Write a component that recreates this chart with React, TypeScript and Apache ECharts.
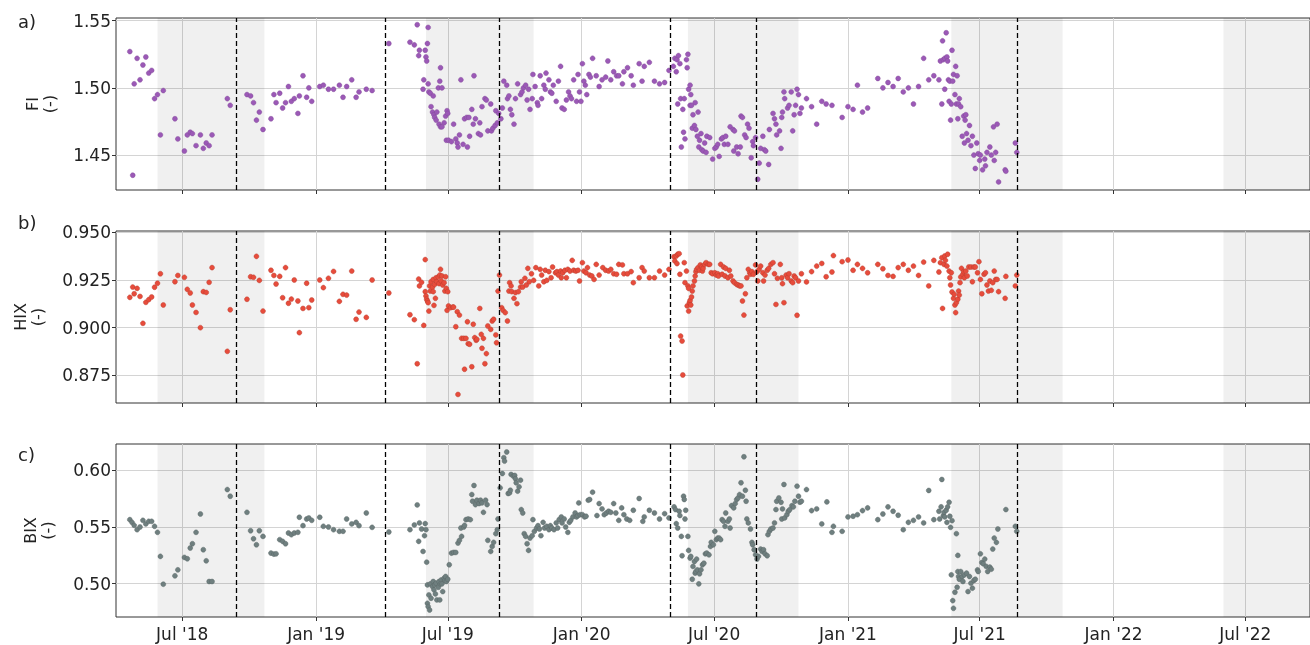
import React, { useEffect, useRef } from "react";
import * as echarts from "echarts";

// ---------- axis / annotation data ----------
const xMin = "2018-04-01";
const xMax = "2022-09-28";
const tickDates = ["2018-07-01", "2019-01-01", "2019-07-01", "2020-01-01", "2020-07-01", "2021-01-01", "2021-07-01", "2022-01-01", "2022-07-01"];
const tickLabels = ["Jul '18", "Jan '19", "Jul '19", "Jan '20", "Jul '20", "Jan '21", "Jul '21", "Jan '22", "Jul '22"];
const summerBands: [string, string][] = [
  ["2018-05-28", "2018-10-22"],
  ["2019-06-01", "2019-10-27"],
  ["2020-05-26", "2020-10-25"],
  ["2021-05-23", "2021-10-23"],
  ["2022-06-01", "2022-09-28"],
];
const breakDates = ["2018-09-13", "2019-04-06", "2019-09-10", "2020-05-02", "2020-08-28", "2021-08-22"];
const fiTicks = [1.45, 1.5, 1.55];
const hixTicks = [0.875, 0.9, 0.925, 0.95];
const bixTicks = [0.5, 0.55, 0.6];
const panelLabels = ["a)", "b)", "c)"];
const axisNames = ["FI\n(-)", "HIX\n(-)", "BIX\n(-)"];

// ---------- FI ----------
const fiData: [string, number][] = [
  ["2018-04-20", 1.527], ["2018-04-24", 1.435], ["2018-04-26", 1.503], ["2018-04-30", 1.522], ["2018-05-04", 1.506],
  ["2018-05-08", 1.517], ["2018-05-12", 1.523], ["2018-05-16", 1.511], ["2018-05-20", 1.513], ["2018-05-24", 1.492],
  ["2018-05-28", 1.495], ["2018-06-01", 1.465], ["2018-06-05", 1.498], ["2018-06-21", 1.477], ["2018-06-25", 1.462],
  ["2018-07-04", 1.453], ["2018-07-08", 1.465], ["2018-07-12", 1.467], ["2018-07-15", 1.466], ["2018-07-20", 1.457],
  ["2018-07-26", 1.465], ["2018-07-30", 1.455], ["2018-08-03", 1.459], ["2018-08-07", 1.457], ["2018-08-11", 1.465],
  ["2018-09-01", 1.492], ["2018-09-05", 1.487], ["2018-09-28", 1.495], ["2018-10-03", 1.494], ["2018-10-07", 1.489],
  ["2018-10-11", 1.476], ["2018-10-15", 1.482], ["2018-10-20", 1.469], ["2018-10-31", 1.477], ["2018-11-04", 1.495],
  ["2018-11-07", 1.489], ["2018-11-12", 1.496], ["2018-11-16", 1.485], ["2018-11-20", 1.489], ["2018-11-24", 1.501],
  ["2018-11-28", 1.490], ["2018-12-02", 1.492], ["2018-12-07", 1.481], ["2018-12-09", 1.494], ["2018-12-14", 1.509],
  ["2018-12-19", 1.493], ["2018-12-22", 1.500], ["2018-12-26", 1.490], ["2019-01-06", 1.501], ["2019-01-11", 1.502],
  ["2019-01-18", 1.499], ["2019-01-25", 1.499], ["2019-02-02", 1.502], ["2019-02-07", 1.493], ["2019-02-12", 1.501],
  ["2019-02-19", 1.506], ["2019-02-25", 1.493], ["2019-03-01", 1.497], ["2019-03-11", 1.499], ["2019-03-19", 1.498],
  ["2019-04-11", 1.533], ["2019-05-10", 1.534], ["2019-05-16", 1.532], ["2019-05-20", 1.547], ["2019-05-22", 1.524],
  ["2019-05-23", 1.528], ["2019-05-28", 1.499], ["2019-05-29", 1.506], ["2019-05-31", 1.528], ["2019-06-01", 1.523],
  ["2019-06-02", 1.520], ["2019-06-03", 1.533], ["2019-06-04", 1.545], ["2019-06-04", 1.503], ["2019-06-05", 1.497],
  ["2019-06-07", 1.496], ["2019-06-08", 1.486], ["2019-06-10", 1.482], ["2019-06-11", 1.494], ["2019-06-12", 1.480],
  ["2019-06-13", 1.478], ["2019-06-15", 1.476], ["2019-06-16", 1.482], ["2019-06-18", 1.500], ["2019-06-19", 1.473],
  ["2019-06-20", 1.505], ["2019-06-21", 1.471], ["2019-06-21", 1.515], ["2019-06-23", 1.500], ["2019-06-23", 1.471],
  ["2019-06-26", 1.474], ["2019-06-28", 1.479], ["2019-06-29", 1.461], ["2019-06-30", 1.483], ["2019-07-01", 1.481],
  ["2019-07-02", 1.461], ["2019-07-06", 1.460], ["2019-07-09", 1.473], ["2019-07-12", 1.462], ["2019-07-14", 1.459],
  ["2019-07-15", 1.456], ["2019-07-17", 1.465], ["2019-07-19", 1.506], ["2019-07-22", 1.458], ["2019-07-24", 1.477],
  ["2019-07-27", 1.478], ["2019-07-28", 1.456], ["2019-07-30", 1.478], ["2019-07-31", 1.464], ["2019-08-03", 1.484],
  ["2019-08-05", 1.473], ["2019-08-06", 1.509], ["2019-08-08", 1.477], ["2019-08-12", 1.466], ["2019-08-14", 1.474],
  ["2019-08-15", 1.465], ["2019-08-17", 1.486], ["2019-08-21", 1.492], ["2019-08-23", 1.491], ["2019-08-25", 1.468],
  ["2019-08-29", 1.488], ["2019-08-30", 1.468], ["2019-09-01", 1.470], ["2019-09-04", 1.472], ["2019-09-05", 1.483],
  ["2019-09-07", 1.474], ["2019-09-09", 1.481], ["2019-09-12", 1.477], ["2019-09-14", 1.485], ["2019-09-16", 1.505],
  ["2019-09-20", 1.502], ["2019-09-21", 1.492], ["2019-09-23", 1.494], ["2019-09-25", 1.484], ["2019-09-27", 1.480],
  ["2019-09-30", 1.473], ["2019-10-02", 1.492], ["2019-10-05", 1.503], ["2019-10-09", 1.495], ["2019-10-11", 1.497],
  ["2019-10-13", 1.500], ["2019-10-16", 1.502], ["2019-10-18", 1.491], ["2019-10-20", 1.499], ["2019-10-22", 1.484],
  ["2019-10-25", 1.492], ["2019-10-26", 1.510], ["2019-10-29", 1.501], ["2019-11-01", 1.489], ["2019-11-02", 1.487],
  ["2019-11-05", 1.509], ["2019-11-07", 1.492], ["2019-11-10", 1.502], ["2019-11-12", 1.499], ["2019-11-13", 1.511],
  ["2019-11-17", 1.506], ["2019-11-19", 1.497], ["2019-11-21", 1.496], ["2019-11-23", 1.502], ["2019-11-27", 1.490],
  ["2019-11-30", 1.505], ["2019-12-03", 1.516], ["2019-12-05", 1.485], ["2019-12-08", 1.484], ["2019-12-11", 1.491],
  ["2019-12-14", 1.497], ["2019-12-16", 1.494], ["2019-12-18", 1.492], ["2019-12-21", 1.506], ["2019-12-25", 1.490],
  ["2019-12-27", 1.510], ["2019-12-29", 1.497], ["2019-12-31", 1.490], ["2020-01-02", 1.518], ["2020-01-04", 1.505],
  ["2020-01-06", 1.502], ["2020-01-08", 1.495], ["2020-01-11", 1.510], ["2020-01-13", 1.508], ["2020-01-16", 1.522],
  ["2020-01-21", 1.509], ["2020-01-25", 1.501], ["2020-01-29", 1.506], ["2020-02-03", 1.508], ["2020-02-06", 1.520],
  ["2020-02-10", 1.506], ["2020-02-14", 1.512], ["2020-02-18", 1.509], ["2020-02-21", 1.509], ["2020-02-26", 1.503],
  ["2020-02-28", 1.512], ["2020-03-04", 1.515], ["2020-03-09", 1.509], ["2020-03-12", 1.502], ["2020-03-20", 1.518],
  ["2020-03-24", 1.505], ["2020-03-27", 1.516], ["2020-04-03", 1.519], ["2020-04-10", 1.505], ["2020-04-17", 1.503],
  ["2020-04-24", 1.504], ["2020-04-30", 1.513], ["2020-05-06", 1.516], ["2020-05-08", 1.522], ["2020-05-10", 1.512],
  ["2020-05-11", 1.521], ["2020-05-12", 1.488], ["2020-05-13", 1.524], ["2020-05-15", 1.518], ["2020-05-16", 1.492],
  ["2020-05-17", 1.456], ["2020-05-19", 1.484], ["2020-05-20", 1.467], ["2020-05-21", 1.492], ["2020-05-22", 1.462],
  ["2020-05-24", 1.521], ["2020-05-25", 1.515], ["2020-05-26", 1.525], ["2020-05-27", 1.499], ["2020-05-29", 1.502],
  ["2020-05-29", 1.487], ["2020-05-30", 1.495], ["2020-05-31", 1.487], ["2020-06-01", 1.470], ["2020-06-02", 1.480],
  ["2020-06-04", 1.472], ["2020-06-05", 1.489], ["2020-06-06", 1.469], ["2020-06-08", 1.464], ["2020-06-09", 1.482],
  ["2020-06-10", 1.456], ["2020-06-11", 1.461], ["2020-06-13", 1.466], ["2020-06-14", 1.454], ["2020-06-16", 1.453],
  ["2020-06-18", 1.459], ["2020-06-20", 1.452], ["2020-06-21", 1.464], ["2020-06-25", 1.463], ["2020-06-29", 1.447],
  ["2020-07-02", 1.455], ["2020-07-04", 1.456], ["2020-07-06", 1.458], ["2020-07-08", 1.449], ["2020-07-11", 1.462],
  ["2020-07-13", 1.463], ["2020-07-15", 1.458], ["2020-07-17", 1.464], ["2020-07-20", 1.458], ["2020-07-23", 1.471],
  ["2020-07-27", 1.469], ["2020-07-28", 1.453], ["2020-07-29", 1.468], ["2020-08-01", 1.456], ["2020-08-03", 1.451],
  ["2020-08-06", 1.456], ["2020-08-07", 1.479], ["2020-08-09", 1.478], ["2020-08-12", 1.465], ["2020-08-14", 1.463],
  ["2020-08-16", 1.473], ["2020-08-18", 1.470], ["2020-08-21", 1.448], ["2020-08-23", 1.460], ["2020-08-24", 1.457],
  ["2020-08-27", 1.463], ["2020-08-30", 1.432], ["2020-09-01", 1.444], ["2020-09-03", 1.455], ["2020-09-06", 1.464],
  ["2020-09-08", 1.454], ["2020-09-10", 1.453], ["2020-09-14", 1.443], ["2020-09-15", 1.469], ["2020-09-20", 1.481],
  ["2020-09-22", 1.477], ["2020-09-24", 1.473], ["2020-09-25", 1.465], ["2020-09-29", 1.468], ["2020-10-01", 1.455],
  ["2020-10-02", 1.478], ["2020-10-03", 1.482], ["2020-10-05", 1.497], ["2020-10-06", 1.492], ["2020-10-10", 1.485],
  ["2020-10-12", 1.487], ["2020-10-15", 1.497], ["2020-10-17", 1.468], ["2020-10-19", 1.480], ["2020-10-21", 1.487],
  ["2020-10-23", 1.499], ["2020-10-25", 1.495], ["2020-10-27", 1.481], ["2020-10-29", 1.485], ["2020-11-05", 1.492],
  ["2020-11-12", 1.486], ["2020-11-19", 1.473], ["2020-11-26", 1.490], ["2020-12-02", 1.488], ["2020-12-10", 1.487],
  ["2020-12-24", 1.478], ["2021-01-01", 1.486], ["2021-01-08", 1.484], ["2021-01-14", 1.502], ["2021-01-21", 1.482],
  ["2021-01-28", 1.485], ["2021-02-11", 1.507], ["2021-02-18", 1.500], ["2021-02-25", 1.504], ["2021-03-04", 1.501],
  ["2021-03-11", 1.507], ["2021-03-18", 1.497], ["2021-03-25", 1.500], ["2021-04-01", 1.488], ["2021-04-08", 1.501],
  ["2021-04-15", 1.522], ["2021-04-22", 1.506], ["2021-04-29", 1.509], ["2021-05-06", 1.506], ["2021-05-08", 1.520],
  ["2021-05-10", 1.488], ["2021-05-11", 1.535], ["2021-05-12", 1.521], ["2021-05-14", 1.522], ["2021-05-14", 1.499],
  ["2021-05-16", 1.541], ["2021-05-17", 1.523], ["2021-05-18", 1.520], ["2021-05-19", 1.506], ["2021-05-20", 1.490],
  ["2021-05-21", 1.505], ["2021-05-22", 1.476], ["2021-05-23", 1.488], ["2021-05-24", 1.528], ["2021-05-25", 1.505],
  ["2021-05-26", 1.510], ["2021-05-28", 1.495], ["2021-05-29", 1.516], ["2021-05-30", 1.488], ["2021-05-31", 1.509],
  ["2021-06-01", 1.477], ["2021-06-02", 1.488], ["2021-06-03", 1.492], ["2021-06-05", 1.486], ["2021-06-07", 1.464],
  ["2021-06-09", 1.479], ["2021-06-10", 1.459], ["2021-06-11", 1.476], ["2021-06-12", 1.480], ["2021-06-13", 1.466],
  ["2021-06-15", 1.461], ["2021-06-17", 1.472], ["2021-06-19", 1.457], ["2021-06-21", 1.464], ["2021-06-23", 1.450],
  ["2021-06-25", 1.440], ["2021-06-27", 1.459], ["2021-06-29", 1.451], ["2021-07-01", 1.446], ["2021-07-02", 1.450],
  ["2021-07-05", 1.439], ["2021-07-08", 1.447], ["2021-07-09", 1.442], ["2021-07-11", 1.452], ["2021-07-15", 1.456],
  ["2021-07-17", 1.450], ["2021-07-20", 1.471], ["2021-07-21", 1.446], ["2021-07-23", 1.452], ["2021-07-25", 1.473],
  ["2021-07-27", 1.430], ["2021-08-05", 1.439], ["2021-08-06", 1.438], ["2021-08-19", 1.459], ["2021-08-21", 1.452],
];

// ---------- HIX ----------
const hixData: [string, number][] = [
  ["2018-04-20", 0.9159], ["2018-04-24", 0.9213], ["2018-04-26", 0.9178], ["2018-04-30", 0.9206], ["2018-05-04", 0.9164],
  ["2018-05-08", 0.9023], ["2018-05-12", 0.9133], ["2018-05-16", 0.9147], ["2018-05-20", 0.9161], ["2018-05-24", 0.9212],
  ["2018-05-28", 0.9233], ["2018-06-01", 0.9283], ["2018-06-05", 0.9119], ["2018-06-21", 0.9241], ["2018-06-25", 0.9274],
  ["2018-07-04", 0.9264], ["2018-07-08", 0.9201], ["2018-07-12", 0.9182], ["2018-07-15", 0.9119], ["2018-07-20", 0.9080],
  ["2018-07-26", 0.9000], ["2018-07-30", 0.9189], ["2018-08-03", 0.9185], ["2018-08-07", 0.9238], ["2018-08-11", 0.9315],
  ["2018-09-01", 0.8876], ["2018-09-05", 0.9094], ["2018-09-28", 0.9149], ["2018-10-03", 0.9267], ["2018-10-07", 0.9264],
  ["2018-10-11", 0.9374], ["2018-10-15", 0.9248], ["2018-10-20", 0.9087], ["2018-10-31", 0.9301], ["2018-11-04", 0.9274],
  ["2018-11-07", 0.9229], ["2018-11-12", 0.9269], ["2018-11-16", 0.9157], ["2018-11-20", 0.9315], ["2018-11-24", 0.9128],
  ["2018-11-28", 0.9150], ["2018-12-02", 0.9250], ["2018-12-07", 0.9140], ["2018-12-09", 0.8974], ["2018-12-14", 0.9101],
  ["2018-12-19", 0.9233], ["2018-12-22", 0.9105], ["2018-12-26", 0.9145], ["2019-01-06", 0.9250], ["2019-01-11", 0.9210],
  ["2019-01-18", 0.9259], ["2019-01-25", 0.9295], ["2019-02-02", 0.9138], ["2019-02-07", 0.9175], ["2019-02-12", 0.9171],
  ["2019-02-19", 0.9297], ["2019-02-25", 0.9044], ["2019-03-01", 0.9082], ["2019-03-11", 0.9054], ["2019-03-19", 0.9250],
  ["2019-04-11", 0.9182], ["2019-05-10", 0.9068], ["2019-05-16", 0.9042], ["2019-05-20", 0.8811], ["2019-05-22", 0.9255],
  ["2019-05-23", 0.9219], ["2019-05-26", 0.9238], ["2019-05-29", 0.9012], ["2019-05-31", 0.9357], ["2019-05-31", 0.9189],
  ["2019-06-01", 0.9166], ["2019-06-02", 0.9149], ["2019-06-03", 0.9140], ["2019-06-04", 0.9131], ["2019-06-05", 0.9087],
  ["2019-06-06", 0.9219], ["2019-06-07", 0.9192], ["2019-06-08", 0.9241], ["2019-06-10", 0.9213], ["2019-06-11", 0.9189],
  ["2019-06-11", 0.9253], ["2019-06-12", 0.9117], ["2019-06-13", 0.9227], ["2019-06-14", 0.9154], ["2019-06-15", 0.9262],
  ["2019-06-16", 0.9241], ["2019-06-18", 0.9266], ["2019-06-19", 0.9231], ["2019-06-20", 0.9276], ["2019-06-21", 0.9306],
  ["2019-06-22", 0.9245], ["2019-06-23", 0.9271], ["2019-06-24", 0.9224], ["2019-06-26", 0.9236], ["2019-06-27", 0.9192],
  ["2019-06-28", 0.9267], ["2019-06-29", 0.9206], ["2019-06-30", 0.9091], ["2019-07-01", 0.9189], ["2019-07-02", 0.9114],
  ["2019-07-05", 0.9105], ["2019-07-08", 0.9108], ["2019-07-09", 0.9108], ["2019-07-12", 0.9005], ["2019-07-14", 0.9084],
  ["2019-07-15", 0.8650], ["2019-07-17", 0.9066], ["2019-07-20", 0.8944], ["2019-07-23", 0.8944], ["2019-07-24", 0.8782],
  ["2019-07-26", 0.8944], ["2019-07-28", 0.9031], ["2019-07-29", 0.8916], ["2019-07-31", 0.8913], ["2019-08-03", 0.8795],
  ["2019-08-05", 0.9018], ["2019-08-07", 0.8948], ["2019-08-09", 0.8934], ["2019-08-10", 0.8939], ["2019-08-14", 0.9101],
  ["2019-08-16", 0.8965], ["2019-08-17", 0.8892], ["2019-08-19", 0.8944], ["2019-08-21", 0.8811], ["2019-08-23", 0.8864],
  ["2019-08-25", 0.9009], ["2019-08-29", 0.8991], ["2019-08-31", 0.9035], ["2019-09-02", 0.9044], ["2019-09-05", 0.8962],
  ["2019-09-06", 0.8921], ["2019-09-08", 0.9192], ["2019-09-10", 0.9276], ["2019-09-13", 0.9105], ["2019-09-15", 0.9091],
  ["2019-09-18", 0.9079], ["2019-09-21", 0.9035], ["2019-09-23", 0.9192], ["2019-09-24", 0.9236], ["2019-09-26", 0.9219],
  ["2019-09-27", 0.9189], ["2019-09-30", 0.9154], ["2019-10-02", 0.9184], ["2019-10-04", 0.9126], ["2019-10-06", 0.9189],
  ["2019-10-09", 0.9213], ["2019-10-10", 0.9241], ["2019-10-12", 0.9213], ["2019-10-15", 0.9259], ["2019-10-17", 0.9224],
  ["2019-10-19", 0.9311], ["2019-10-21", 0.9241], ["2019-10-24", 0.9283], ["2019-10-27", 0.9248], ["2019-10-30", 0.9315],
  ["2019-11-03", 0.9219], ["2019-11-05", 0.9306], ["2019-11-07", 0.9276], ["2019-11-10", 0.9241], ["2019-11-12", 0.9301],
  ["2019-11-14", 0.9248], ["2019-11-17", 0.9294], ["2019-11-20", 0.9262], ["2019-11-22", 0.9318], ["2019-11-26", 0.9288],
  ["2019-11-28", 0.9294], ["2019-11-30", 0.9276], ["2019-12-03", 0.9297], ["2019-12-04", 0.9262], ["2019-12-06", 0.9288],
  ["2019-12-09", 0.9301], ["2019-12-11", 0.9262], ["2019-12-13", 0.9306], ["2019-12-16", 0.9297], ["2019-12-19", 0.9353],
  ["2019-12-21", 0.9301], ["2019-12-24", 0.9297], ["2019-12-27", 0.9301], ["2019-12-29", 0.9245], ["2020-01-02", 0.9341],
  ["2020-01-04", 0.9297], ["2020-01-07", 0.9288], ["2020-01-09", 0.9315], ["2020-01-12", 0.9276], ["2020-01-15", 0.9271],
  ["2020-01-18", 0.9253], ["2020-01-21", 0.9332], ["2020-01-25", 0.9276], ["2020-01-30", 0.9315], ["2020-02-03", 0.9301],
  ["2020-02-07", 0.9297], ["2020-02-10", 0.9306], ["2020-02-14", 0.9283], ["2020-02-18", 0.9280], ["2020-02-21", 0.9332],
  ["2020-02-26", 0.9329], ["2020-02-28", 0.9283], ["2020-03-04", 0.9283], ["2020-03-09", 0.9294], ["2020-03-12", 0.9236],
  ["2020-03-20", 0.9262], ["2020-03-24", 0.9315], ["2020-03-27", 0.9297], ["2020-04-03", 0.9262], ["2020-04-10", 0.9262],
  ["2020-04-17", 0.9297], ["2020-04-24", 0.9276], ["2020-04-30", 0.9306], ["2020-05-07", 0.9372], ["2020-05-08", 0.9350],
  ["2020-05-10", 0.9376], ["2020-05-11", 0.9336], ["2020-05-12", 0.9385], ["2020-05-14", 0.9388], ["2020-05-15", 0.9280],
  ["2020-05-16", 0.8956], ["2020-05-18", 0.8930], ["2020-05-19", 0.8752], ["2020-05-21", 0.9341], ["2020-05-22", 0.9236],
  ["2020-05-24", 0.9297], ["2020-05-25", 0.9114], ["2020-05-26", 0.9219], ["2020-05-27", 0.9206], ["2020-05-27", 0.9087],
  ["2020-05-28", 0.9131], ["2020-05-29", 0.9143], ["2020-05-30", 0.9119], ["2020-05-31", 0.9161], ["2020-06-01", 0.9192],
  ["2020-06-02", 0.9219], ["2020-06-04", 0.9245], ["2020-06-05", 0.9271], ["2020-06-06", 0.9294], ["2020-06-07", 0.9306],
  ["2020-06-09", 0.9315], ["2020-06-11", 0.9301], ["2020-06-12", 0.9329], ["2020-06-14", 0.9318], ["2020-06-15", 0.9297],
  ["2020-06-16", 0.9311], ["2020-06-18", 0.9332], ["2020-06-20", 0.9341], ["2020-06-23", 0.9332], ["2020-06-25", 0.9332],
  ["2020-06-27", 0.9288], ["2020-06-29", 0.9283], ["2020-07-02", 0.9288], ["2020-07-04", 0.9276], ["2020-07-06", 0.9283],
  ["2020-07-07", 0.9271], ["2020-07-10", 0.9332], ["2020-07-12", 0.9280], ["2020-07-14", 0.9318], ["2020-07-16", 0.9271],
  ["2020-07-17", 0.9311], ["2020-07-20", 0.9262], ["2020-07-22", 0.9301], ["2020-07-24", 0.9271], ["2020-07-27", 0.9245],
  ["2020-07-29", 0.9236], ["2020-08-01", 0.9227], ["2020-08-03", 0.9224], ["2020-08-05", 0.9219], ["2020-08-07", 0.9219],
  ["2020-08-09", 0.9140], ["2020-08-11", 0.9066], ["2020-08-13", 0.9178], ["2020-08-15", 0.9262], ["2020-08-17", 0.9306],
  ["2020-08-19", 0.9288], ["2020-08-20", 0.9280], ["2020-08-22", 0.9294], ["2020-08-24", 0.9280], ["2020-08-27", 0.9329],
  ["2020-08-29", 0.9294], ["2020-08-30", 0.9245], ["2020-09-01", 0.9306], ["2020-09-03", 0.9323], ["2020-09-06", 0.9288],
  ["2020-09-07", 0.9245], ["2020-09-09", 0.9276], ["2020-09-12", 0.9301], ["2020-09-14", 0.9311], ["2020-09-17", 0.9332],
  ["2020-09-20", 0.9341], ["2020-09-22", 0.9283], ["2020-09-24", 0.9122], ["2020-09-26", 0.9259], ["2020-09-30", 0.9332],
  ["2020-10-02", 0.9262], ["2020-10-03", 0.9231], ["2020-10-05", 0.9131], ["2020-10-08", 0.9276], ["2020-10-10", 0.9262],
  ["2020-10-12", 0.9283], ["2020-10-15", 0.9245], ["2020-10-17", 0.9236], ["2020-10-19", 0.9271], ["2020-10-21", 0.9262],
  ["2020-10-23", 0.9065], ["2020-10-25", 0.9245], ["2020-10-29", 0.9283], ["2020-11-05", 0.9240], ["2020-11-12", 0.9294],
  ["2020-11-19", 0.9323], ["2020-11-26", 0.9337], ["2020-12-02", 0.9267], ["2020-12-10", 0.9292], ["2020-12-12", 0.9378],
  ["2020-12-24", 0.9346], ["2021-01-01", 0.9355], ["2021-01-08", 0.9301], ["2021-01-14", 0.9332], ["2021-01-21", 0.9311],
  ["2021-01-28", 0.9288], ["2021-02-11", 0.9332], ["2021-02-18", 0.9309], ["2021-02-25", 0.9274], ["2021-03-04", 0.9269],
  ["2021-03-11", 0.9315], ["2021-03-18", 0.9332], ["2021-03-25", 0.9301], ["2021-04-01", 0.9323], ["2021-04-08", 0.9274],
  ["2021-04-15", 0.9344], ["2021-04-22", 0.9219], ["2021-04-29", 0.9353], ["2021-05-06", 0.9292], ["2021-05-08", 0.9341],
  ["2021-05-10", 0.9367], ["2021-05-11", 0.9101], ["2021-05-13", 0.9332], ["2021-05-14", 0.9376], ["2021-05-15", 0.9353],
  ["2021-05-17", 0.9323], ["2021-05-18", 0.9385], ["2021-05-20", 0.9297], ["2021-05-21", 0.9262], ["2021-05-22", 0.9224],
  ["2021-05-23", 0.9288], ["2021-05-24", 0.9187], ["2021-05-26", 0.9154], ["2021-05-27", 0.9175], ["2021-05-28", 0.9119],
  ["2021-05-29", 0.9079], ["2021-05-30", 0.9131], ["2021-06-01", 0.9149], ["2021-06-02", 0.9192], ["2021-06-03", 0.9171],
  ["2021-06-04", 0.9236], ["2021-06-05", 0.9266], ["2021-06-06", 0.9311], ["2021-06-08", 0.9280], ["2021-06-09", 0.9294],
  ["2021-06-10", 0.9262], ["2021-06-12", 0.9297], ["2021-06-14", 0.9271], ["2021-06-16", 0.9318], ["2021-06-19", 0.9318],
  ["2021-06-21", 0.9241], ["2021-06-23", 0.9318], ["2021-06-25", 0.9318], ["2021-06-28", 0.9288], ["2021-06-30", 0.9346],
  ["2021-07-02", 0.9253], ["2021-07-04", 0.9178], ["2021-07-07", 0.9280], ["2021-07-09", 0.9288], ["2021-07-11", 0.9224],
  ["2021-07-13", 0.9192], ["2021-07-15", 0.9245], ["2021-07-17", 0.9196], ["2021-07-19", 0.9236], ["2021-07-21", 0.9297],
  ["2021-07-23", 0.9253], ["2021-07-25", 0.9253], ["2021-07-27", 0.9189], ["2021-08-05", 0.9154], ["2021-08-06", 0.9269],
  ["2021-08-19", 0.9219], ["2021-08-21", 0.9276],
];

// ---------- BIX ----------
const bixData: [string, number][] = [
  ["2018-04-20", 0.5565], ["2018-04-23", 0.5541], ["2018-04-26", 0.5515], ["2018-04-30", 0.5476], ["2018-05-04", 0.5500],
  ["2018-05-08", 0.5559], ["2018-05-12", 0.5527], ["2018-05-16", 0.5550], ["2018-05-20", 0.5550], ["2018-05-24", 0.5506],
  ["2018-05-28", 0.5453], ["2018-06-01", 0.5240], ["2018-06-05", 0.4994], ["2018-06-21", 0.5068], ["2018-06-25", 0.5121],
  ["2018-07-04", 0.5231], ["2018-07-08", 0.5219], ["2018-07-12", 0.5314], ["2018-07-15", 0.5352], ["2018-07-20", 0.5453],
  ["2018-07-26", 0.5615], ["2018-07-30", 0.5299], ["2018-08-03", 0.5201], ["2018-08-07", 0.5018], ["2018-08-11", 0.5018],
  ["2018-09-01", 0.5831], ["2018-09-05", 0.5772], ["2018-09-28", 0.5630], ["2018-10-03", 0.5467], ["2018-10-07", 0.5396],
  ["2018-10-11", 0.5343], ["2018-10-15", 0.5467], ["2018-10-20", 0.5417], ["2018-10-31", 0.5269], ["2018-11-04", 0.5260],
  ["2018-11-07", 0.5263], ["2018-11-12", 0.5388], ["2018-11-16", 0.5373], ["2018-11-20", 0.5352], ["2018-11-24", 0.5447],
  ["2018-11-28", 0.5432], ["2018-12-02", 0.5447], ["2018-12-07", 0.5453], ["2018-12-09", 0.5586], ["2018-12-14", 0.5512],
  ["2018-12-19", 0.5571], ["2018-12-22", 0.5580], ["2018-12-26", 0.5559], ["2019-01-06", 0.5586], ["2019-01-11", 0.5506],
  ["2019-01-18", 0.5500], ["2019-01-25", 0.5476], ["2019-02-02", 0.5462], ["2019-02-07", 0.5462], ["2019-02-12", 0.5571],
  ["2019-02-19", 0.5527], ["2019-02-25", 0.5541], ["2019-03-01", 0.5512], ["2019-03-11", 0.5624], ["2019-03-19", 0.5497],
  ["2019-04-11", 0.5456], ["2019-05-10", 0.5476], ["2019-05-16", 0.5518], ["2019-05-20", 0.5695], ["2019-05-22", 0.5373],
  ["2019-05-23", 0.5536], ["2019-05-26", 0.5482], ["2019-05-28", 0.5284], ["2019-05-30", 0.5423], ["2019-05-31", 0.5530],
  ["2019-06-01", 0.5476], ["2019-06-02", 0.5189], ["2019-06-03", 0.4988], ["2019-06-03", 0.4825], ["2019-06-04", 0.4796],
  ["2019-06-05", 0.4899], ["2019-06-06", 0.4766], ["2019-06-07", 0.4997], ["2019-06-08", 0.4870], ["2019-06-10", 0.4973],
  ["2019-06-11", 0.5018], ["2019-06-12", 0.4944], ["2019-06-13", 0.4988], ["2019-06-14", 0.4908], ["2019-06-15", 0.5003],
  ["2019-06-16", 0.4855], ["2019-06-18", 0.4967], ["2019-06-19", 0.5018], ["2019-06-20", 0.4855], ["2019-06-21", 0.4997],
  ["2019-06-22", 0.5032], ["2019-06-23", 0.4997], ["2019-06-24", 0.4929], ["2019-06-26", 0.5047], ["2019-06-27", 0.5027],
  ["2019-06-28", 0.5062], ["2019-06-29", 0.5018], ["2019-07-01", 0.5038], ["2019-07-03", 0.5166], ["2019-07-06", 0.5269],
  ["2019-07-09", 0.5275], ["2019-07-12", 0.5275], ["2019-07-15", 0.5358], ["2019-07-17", 0.5382], ["2019-07-19", 0.5491],
  ["2019-07-20", 0.5417], ["2019-07-23", 0.5500], ["2019-07-24", 0.5515], ["2019-07-26", 0.5565], ["2019-07-29", 0.5571],
  ["2019-08-01", 0.5565], ["2019-08-03", 0.5787], ["2019-08-04", 0.5728], ["2019-08-06", 0.5867], ["2019-08-08", 0.5698],
  ["2019-08-10", 0.5737], ["2019-08-13", 0.5707], ["2019-08-15", 0.5737], ["2019-08-17", 0.5713], ["2019-08-19", 0.5630],
  ["2019-08-22", 0.5737], ["2019-08-24", 0.5698], ["2019-08-25", 0.5382], ["2019-08-29", 0.5284], ["2019-08-31", 0.5328],
  ["2019-09-02", 0.5364], ["2019-09-05", 0.5441], ["2019-09-07", 0.5476], ["2019-09-08", 0.5571], ["2019-09-11", 0.5846],
  ["2019-09-14", 0.5973], ["2019-09-16", 0.6113], ["2019-09-17", 0.6083], ["2019-09-20", 0.6163], ["2019-09-22", 0.5796],
  ["2019-09-24", 0.5802], ["2019-09-25", 0.5825], ["2019-09-26", 0.5965], ["2019-09-29", 0.5950], ["2019-10-01", 0.5956],
  ["2019-10-02", 0.5926], ["2019-10-03", 0.5891], ["2019-10-05", 0.5817], ["2019-10-07", 0.5855], ["2019-10-09", 0.5914],
  ["2019-10-10", 0.5654], ["2019-10-12", 0.5624], ["2019-10-14", 0.5441], ["2019-10-16", 0.5417], ["2019-10-18", 0.5352],
  ["2019-10-20", 0.5293], ["2019-10-22", 0.5402], ["2019-10-25", 0.5423], ["2019-10-26", 0.5565], ["2019-10-28", 0.5462],
  ["2019-10-31", 0.5491], ["2019-11-02", 0.5512], ["2019-11-04", 0.5482], ["2019-11-06", 0.5423], ["2019-11-09", 0.5541],
  ["2019-11-11", 0.5491], ["2019-11-14", 0.5506], ["2019-11-17", 0.5476], ["2019-11-19", 0.5512], ["2019-11-21", 0.5491],
  ["2019-11-24", 0.5476], ["2019-11-27", 0.5536], ["2019-11-29", 0.5491], ["2019-12-01", 0.5565], ["2019-12-04", 0.5589],
  ["2019-12-05", 0.5536], ["2019-12-08", 0.5571], ["2019-12-10", 0.5500], ["2019-12-13", 0.5453], ["2019-12-15", 0.5541],
  ["2019-12-17", 0.5559], ["2019-12-20", 0.5589], ["2019-12-23", 0.5624], ["2019-12-25", 0.5589], ["2019-12-27", 0.5601],
  ["2019-12-28", 0.5713], ["2019-12-30", 0.5609], ["2020-01-02", 0.5609], ["2020-01-05", 0.5589], ["2020-01-07", 0.5595],
  ["2020-01-10", 0.5737], ["2020-01-12", 0.5743], ["2020-01-16", 0.5808], ["2020-01-22", 0.5601], ["2020-01-25", 0.5707],
  ["2020-01-29", 0.5660], ["2020-02-01", 0.5609], ["2020-02-04", 0.5624], ["2020-02-07", 0.5639], ["2020-02-10", 0.5630],
  ["2020-02-14", 0.5707], ["2020-02-17", 0.5624], ["2020-02-21", 0.5559], ["2020-02-25", 0.5669], ["2020-02-28", 0.5609],
  ["2020-03-03", 0.5571], ["2020-03-07", 0.5559], ["2020-03-12", 0.5648], ["2020-03-20", 0.5752], ["2020-03-25", 0.5550],
  ["2020-03-27", 0.5589], ["2020-04-03", 0.5648], ["2020-04-10", 0.5624], ["2020-04-17", 0.5571], ["2020-04-24", 0.5618],
  ["2020-04-30", 0.5580], ["2020-05-07", 0.5678], ["2020-05-09", 0.5654], ["2020-05-10", 0.5530], ["2020-05-12", 0.5491],
  ["2020-05-14", 0.5639], ["2020-05-15", 0.5601], ["2020-05-17", 0.5417], ["2020-05-18", 0.5246], ["2020-05-20", 0.5772],
  ["2020-05-21", 0.5743], ["2020-05-22", 0.5571], ["2020-05-23", 0.5648], ["2020-05-26", 0.5417], ["2020-05-27", 0.5293],
  ["2020-05-29", 0.5225], ["2020-05-30", 0.5240], ["2020-06-01", 0.5038], ["2020-06-02", 0.5151], ["2020-06-04", 0.5195],
  ["2020-06-05", 0.5092], ["2020-06-06", 0.5106], ["2020-06-07", 0.5216], ["2020-06-08", 0.5121], ["2020-06-10", 0.4997],
  ["2020-06-11", 0.5086], ["2020-06-13", 0.5121], ["2020-06-15", 0.5166], ["2020-06-17", 0.5180], ["2020-06-19", 0.5263],
  ["2020-06-21", 0.5269], ["2020-06-24", 0.5254], ["2020-06-26", 0.5328], ["2020-06-27", 0.5364], ["2020-06-30", 0.5343],
  ["2020-07-02", 0.5462], ["2020-07-04", 0.5388], ["2020-07-06", 0.5402], ["2020-07-08", 0.5402], ["2020-07-10", 0.5388],
  ["2020-07-12", 0.5565], ["2020-07-14", 0.5550], ["2020-07-16", 0.5506], ["2020-07-17", 0.5624], ["2020-07-20", 0.5550],
  ["2020-07-22", 0.5571], ["2020-07-23", 0.5491], ["2020-07-25", 0.5689], ["2020-07-28", 0.5669], ["2020-07-30", 0.5707],
  ["2020-08-01", 0.5743], ["2020-08-03", 0.5757], ["2020-08-05", 0.5787], ["2020-08-07", 0.5891], ["2020-08-09", 0.5772],
  ["2020-08-11", 0.6121], ["2020-08-13", 0.5825], ["2020-08-14", 0.5728], ["2020-08-15", 0.5571], ["2020-08-17", 0.5536],
  ["2020-08-20", 0.5482], ["2020-08-22", 0.5364], ["2020-08-23", 0.5343], ["2020-08-25", 0.5299], ["2020-08-27", 0.5254],
  ["2020-08-29", 0.5216], ["2020-08-31", 0.5240], ["2020-09-03", 0.5305], ["2020-09-05", 0.5284], ["2020-09-07", 0.5299],
  ["2020-09-09", 0.5263], ["2020-09-12", 0.5246], ["2020-09-13", 0.5432], ["2020-09-15", 0.5462], ["2020-09-17", 0.5482],
  ["2020-09-20", 0.5491], ["2020-09-22", 0.5536], ["2020-09-24", 0.5654], ["2020-09-25", 0.5728], ["2020-09-28", 0.5757],
  ["2020-10-01", 0.5719], ["2020-10-02", 0.5571], ["2020-10-03", 0.5660], ["2020-10-05", 0.5876], ["2020-10-06", 0.5580],
  ["2020-10-09", 0.5609], ["2020-10-11", 0.5639], ["2020-10-13", 0.5654], ["2020-10-16", 0.5689], ["2020-10-18", 0.5678],
  ["2020-10-20", 0.5728], ["2020-10-23", 0.5861], ["2020-10-25", 0.5772], ["2020-10-27", 0.5719], ["2020-10-29", 0.5728],
  ["2020-11-05", 0.5831], ["2020-11-12", 0.5645], ["2020-11-19", 0.5660], ["2020-11-26", 0.5527], ["2020-12-03", 0.5722],
  ["2020-12-10", 0.5453], ["2020-12-12", 0.5506], ["2020-12-24", 0.5462], ["2021-01-01", 0.5589], ["2021-01-08", 0.5595],
  ["2021-01-14", 0.5609], ["2021-01-21", 0.5645], ["2021-01-28", 0.5669], ["2021-02-11", 0.5565], ["2021-02-18", 0.5615],
  ["2021-02-25", 0.5678], ["2021-03-04", 0.5639], ["2021-03-11", 0.5604], ["2021-03-18", 0.5476], ["2021-03-25", 0.5541],
  ["2021-04-01", 0.5559], ["2021-04-08", 0.5589], ["2021-04-15", 0.5536], ["2021-04-22", 0.5823], ["2021-04-29", 0.5565],
  ["2021-05-06", 0.5639], ["2021-05-07", 0.5571], ["2021-05-09", 0.5678], ["2021-05-10", 0.5920], ["2021-05-12", 0.5601],
  ["2021-05-13", 0.5630], ["2021-05-14", 0.5589], ["2021-05-16", 0.5648], ["2021-05-17", 0.5541], ["2021-05-18", 0.5678],
  ["2021-05-20", 0.5719], ["2021-05-21", 0.5595], ["2021-05-22", 0.5497], ["2021-05-23", 0.5077], ["2021-05-24", 0.5556],
  ["2021-05-25", 0.4849], ["2021-05-26", 0.4781], ["2021-05-28", 0.4923], ["2021-05-30", 0.5441], ["2021-05-31", 0.4967],
  ["2021-06-01", 0.5249], ["2021-06-01", 0.5106], ["2021-06-02", 0.5062], ["2021-06-03", 0.5038], ["2021-06-05", 0.5106],
  ["2021-06-07", 0.5062], ["2021-06-08", 0.5018], ["2021-06-10", 0.5077], ["2021-06-13", 0.5092], ["2021-06-15", 0.4929],
  ["2021-06-17", 0.5062], ["2021-06-19", 0.5003], ["2021-06-21", 0.4959], ["2021-06-23", 0.5027], ["2021-06-25", 0.5038],
  ["2021-06-28", 0.5121], ["2021-06-29", 0.5106], ["2021-07-02", 0.5263], ["2021-07-04", 0.5186], ["2021-07-06", 0.5175],
  ["2021-07-08", 0.5216], ["2021-07-10", 0.5151], ["2021-07-12", 0.5106], ["2021-07-15", 0.5145], ["2021-07-17", 0.5127],
  ["2021-07-19", 0.5305], ["2021-07-21", 0.5402], ["2021-07-24", 0.5364], ["2021-07-26", 0.5482], ["2021-08-06", 0.5654],
  ["2021-08-19", 0.5506], ["2021-08-21", 0.5462],
];

const ts = (d: string) => Date.parse(d + "T00:00:00Z");

const FONT = "DejaVu Sans";

export default function App() {
  const ref = useRef<HTMLDivElement>(null);

  useEffect(() => {
    if (!ref.current) return;
    document.body.style.margin = "0";
    const chart = echarts.init(ref.current, undefined, { renderer: "svg" });

    const tickTs = tickDates.map(ts);
    const grids = [
      { top: 18, height: 172 },
      { top: 231, height: 172 },
      { top: 444, height: 173 },
    ];
    const panels = [
      { data: fiData, color: "#9b59b6", border: "#7d4796", min: 1.424, max: 1.552, ticks: fiTicks, dec: 2, gap: 58 },
      { data: hixData, color: "#e74c3c", border: "#b0392c", min: 0.8605, max: 0.9507, ticks: hixTicks, dec: 3, gap: 70 },
      { data: bixData, color: "#6f7f7f", border: "#566363", min: 0.4704, max: 0.6234, ticks: bixTicks, dec: 2, gap: 60 },
    ];

    const option: any = {
      animation: false,
      textStyle: { fontFamily: FONT },
      grid: grids.map((g) => ({
        left: 116,
        right: -2,
        top: g.top,
        height: g.height,
        show: true,
        borderColor: "#333",
        borderWidth: 1,
        backgroundColor: "transparent",
      })),
      xAxis: panels.map((_, i) => ({
        type: "value",
        gridIndex: i,
        min: ts(xMin),
        max: ts(xMax),
        axisLine: { show: false },
        axisTick: { show: true, customValues: tickTs, length: 4, lineStyle: { color: "#333", width: 1 } },
        axisLabel: {
          show: i === 2,
          customValues: tickTs,
          fontSize: 17,
          color: "#222",
          margin: 8,
          fontFamily: FONT,
          formatter: (v: number) => {
            const k = tickTs.indexOf(v);
            return k >= 0 ? tickLabels[k] : "";
          },
        },
        splitLine: { show: true, lineStyle: { color: "#d4d4d4", width: 1 } },
      })),
      yAxis: panels.map((p, i) => ({
        type: "value",
        gridIndex: i,
        min: p.min,
        max: p.max,
        name: axisNames[i],
        nameLocation: "middle",
        nameRotate: 90,
        nameGap: p.gap,
        nameTextStyle: { fontSize: 16, color: "#222", lineHeight: 17, fontFamily: FONT },
        axisLine: { show: false },
        axisTick: { show: true, customValues: p.ticks, length: 4, lineStyle: { color: "#333", width: 1 } },
        axisLabel: {
          customValues: p.ticks,
          fontSize: 17,
          color: "#222",
          margin: 5,
          fontFamily: FONT,
          formatter: (v: number) => v.toFixed(p.dec),
        },
        splitLine: { show: true, lineStyle: { color: "#d4d4d4", width: 1 } },
      })),
      graphic: panelLabels.map((t, i) => ({
        type: "text",
        left: 18,
        top: [12, 213, 445][i],
        style: { text: t, fontSize: 18, fill: "#222", fontFamily: FONT },
      })),
      series: panels.map((p, i) => ({
        type: "scatter",
        xAxisIndex: i,
        yAxisIndex: i,
        symbolSize: 5,
        silent: true,
        itemStyle: { color: p.color, borderColor: p.border, borderWidth: 0.4, opacity: 1 },
        data: p.data.map(([d, v]) => [ts(d), v]),
        markArea: {
          silent: true,
          itemStyle: { color: "rgba(0,0,0,0.058)" },
          data: summerBands.map(([s, e]) => [{ xAxis: ts(s) }, { xAxis: ts(e) }]),
        },
        markLine: {
          silent: true,
          symbol: ["none", "none"],
          label: { show: false },
          lineStyle: { type: [5, 3], color: "#000", width: 1.3 },
          data: breakDates.map((d) => ({ xAxis: ts(d) })),
        },
      })),
    };

    chart.setOption(option);
    return () => chart.dispose();
  }, []);

  return <div ref={ref} style={{ position: "fixed", left: 0, top: 0, width: 1310, height: 645 }} />;
}
